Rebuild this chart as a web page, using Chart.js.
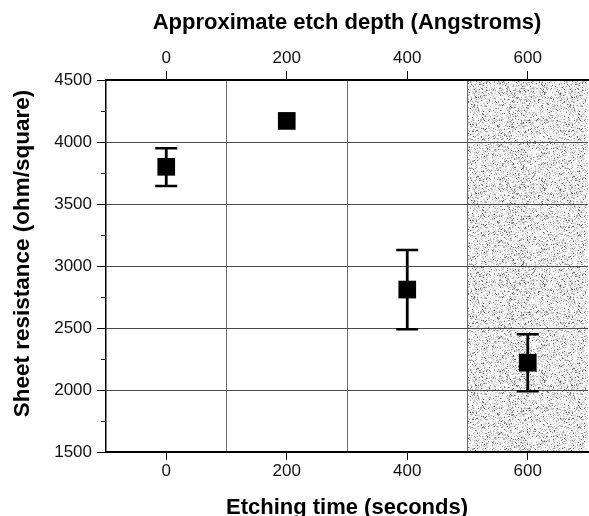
<!DOCTYPE html>
<html>
<head>
<meta charset="utf-8">
<script src="https://cdn.jsdelivr.net/npm/chart.js@4.4.1/dist/chart.umd.min.js"></script>
<style>
  html, body { margin: 0; padding: 0; background: #fff; }
  #wrap { width: 589px; height: 516px; }
</style>
</head>
<body>
<div id="wrap"><canvas id="c" width="589" height="516"></canvas></div>
<script>
// ---- data ----
const etchTimes = [0, 200, 400, 600];            // seconds
const sheetResistance = [3800, 4170, 2810, 2220]; // ohm/square
const errLow  = [3645, null, 2490, 1990];
const errHigh = [3950, null, 3130, 2450];
const xLabelTicks = [0, 200, 400, 600];
const depthLabelTicks = [0, 200, 400, 600];
const xRange = [-100, 700];
const yRange = [1500, 4500];
const yMajorStep = 500;
const yMinorStep = 250;
const shadedRange = [500, 700];

const FONT = '"Liberation Sans", Arial, Helvetica, sans-serif';

// stipple texture for shaded region (deterministic hash of pixel coordinates)
function makeStipple() {
  const s = 96;
  const c = document.createElement('canvas');
  c.width = s; c.height = s;
  const g = c.getContext('2d');
  const img = g.createImageData(s, s);
  for (let y = 0; y < s; y++) {
    for (let x = 0; x < s; x++) {
      let h = (x * 374761393 + y * 668265263) | 0;
      h = (h ^ (h >>> 13)) * 1274126177 | 0;
      h = (h ^ (h >>> 16)) >>> 0;
      const r = (h % 1000) / 1000;
      let v = 246;
      if (r < 0.04) v = 105;
      else if (r < 0.13) v = 165;
      else if (r < 0.32) v = 208;
      const i = (y * s + x) * 4;
      img.data[i] = v; img.data[i+1] = v; img.data[i+2] = v; img.data[i+3] = 255;
    }
  }
  g.putImageData(img, 0, 0);
  return c;
}

const shadePlugin = {
  id: 'shade',
  beforeDraw(chart) {
    const {ctx, chartArea: a, scales: {x}} = chart;
    const x0 = x.getPixelForValue(shadedRange[0]);
    const x1 = x.getPixelForValue(shadedRange[1]);
    ctx.save();
    ctx.fillStyle = ctx.createPattern(makeStipple(), 'repeat');
    ctx.fillRect(x0, a.top, x1 - x0, a.bottom - a.top);
    ctx.restore();
  }
};

const minorTickPlugin = {
  id: 'minorTicks',
  afterDraw(chart) {
    const {ctx, scales: {y}, chartArea: a} = chart;
    ctx.save();
    ctx.strokeStyle = '#222';
    ctx.lineWidth = 1;
    for (let v = yRange[0] + yMinorStep; v < yRange[1]; v += yMinorStep) {
      if (v % yMajorStep === 0) continue;
      const py = Math.round(y.getPixelForValue(v)) + 0.5;
      ctx.beginPath();
      ctx.moveTo(a.left - 5, py);
      ctx.lineTo(a.left, py);
      ctx.stroke();
    }
    ctx.restore();
  }
};

const errorBarPlugin = {
  id: 'errorBars',
  beforeDatasetsDraw(chart) {
    const {ctx, scales: {x, y}} = chart;
    ctx.save();
    ctx.strokeStyle = '#000';
    etchTimes.forEach((t, i) => {
      if (errLow[i] == null) return;
      const px = x.getPixelForValue(t);
      const yl = y.getPixelForValue(errLow[i]);
      const yh = y.getPixelForValue(errHigh[i]);
      ctx.lineWidth = 2.8;
      ctx.beginPath();
      ctx.moveTo(px, yl); ctx.lineTo(px, yh);
      ctx.stroke();
      ctx.lineWidth = 2.5;
      ctx.beginPath();
      ctx.moveTo(px - 11, yl); ctx.lineTo(px + 11, yl);
      ctx.moveTo(px - 11, yh); ctx.lineTo(px + 11, yh);
      ctx.stroke();
    });
    ctx.restore();
  }
};

const tickFont = { family: FONT, size: 17 };
const titleFont = { family: FONT, size: 22, weight: 'bold', lineHeight: 1 };

new Chart(document.getElementById('c'), {
  type: 'scatter',
  data: {
    datasets: [{
      label: 'Sheet resistance',
      data: etchTimes.map((t, i) => ({x: t, y: sheetResistance[i]})),
      pointStyle: 'rect',
      pointRadius: 12.5,
      pointHoverRadius: 12.5,
      backgroundColor: '#000',
      borderColor: '#000',
      borderWidth: 0,
      showLine: false
    }]
  },
  options: {
    responsive: false,
    animation: false,
    devicePixelRatio: 1,
    layout: { padding: 0, autoPadding: false },
    plugins: {
      legend: { display: false },
      tooltip: { enabled: false }
    },
    scales: {
      x: {
        type: 'linear', position: 'bottom',
        min: xRange[0], max: xRange[1],
        afterBuildTicks(s) { s.ticks = [-100,100,300,500,700].concat(xLabelTicks).sort((a,b)=>a-b).map(v => ({value: v})); },
        afterFit(s) { s.height = 64; },
        ticks: {
          autoSkip: false, maxRotation: 0, padding: 1,
          color: '#111', font: tickFont,
          callback: v => xLabelTicks.includes(v) ? String(v) : ''
        },
        grid: {
          tickLength: 8,
          color: c => (c.tick && !xLabelTicks.includes(c.tick.value) && c.tick.value > xRange[0] && c.tick.value < xRange[1]) ? '#707070' : 'rgba(0,0,0,0)',
          tickColor: c => (c.tick && xLabelTicks.includes(c.tick.value)) ? '#000' : 'rgba(0,0,0,0)',
          lineWidth: 1
        },
        border: { display: true, color: '#000', width: 2 },
        title: { display: true, text: 'Etching time (seconds)', color: '#000', font: titleFont, padding: { top: 0, bottom: -3 } }
      },
      x2: {
        type: 'linear', position: 'top',
        min: xRange[0], max: xRange[1],
        afterBuildTicks(s) { s.ticks = depthLabelTicks.map(v => ({value: v})); },
        afterFit(s) { s.height = 80; },
        ticks: { autoSkip: false, maxRotation: 0, padding: 2, color: '#111', font: tickFont, callback: v => String(v) },
        grid: { drawOnChartArea: false, tickLength: 9, tickColor: '#000' },
        border: { display: true, color: '#000', width: 2 },
        title: { display: true, text: 'Approximate etch depth (Angstroms)', color: '#000', font: titleFont, padding: { top: 12, bottom: 0 } }
      },
      y: {
        type: 'linear', position: 'left',
        min: yRange[0], max: yRange[1],
        afterBuildTicks(s) { const t = []; for (let v = yRange[0]; v <= yRange[1]; v += yMajorStep) t.push({value: v}); s.ticks = t; },
        afterFit(s) { s.width = 106; },
        ticks: { autoSkip: false, padding: 5, color: '#111', font: tickFont, callback: v => String(v) },
        grid: {
          tickLength: 9,
          color: c => (c.tick && c.tick.value > yRange[0] && c.tick.value < yRange[1]) ? '#4a4a4a' : 'rgba(0,0,0,0)',
          tickColor: '#000',
          lineWidth: 1
        },
        border: { display: true, color: '#000', width: 1.5 },
        title: { display: true, text: '    Sheet resistance (ohm/square)', color: '#000', font: { family: FONT, size: 22.5, weight: 'bold', lineHeight: 1 }, padding: { top: 12, bottom: 0 } }
      }
    }
  },
  plugins: [shadePlugin, minorTickPlugin, errorBarPlugin]
});
</script>
</body>
</html>
